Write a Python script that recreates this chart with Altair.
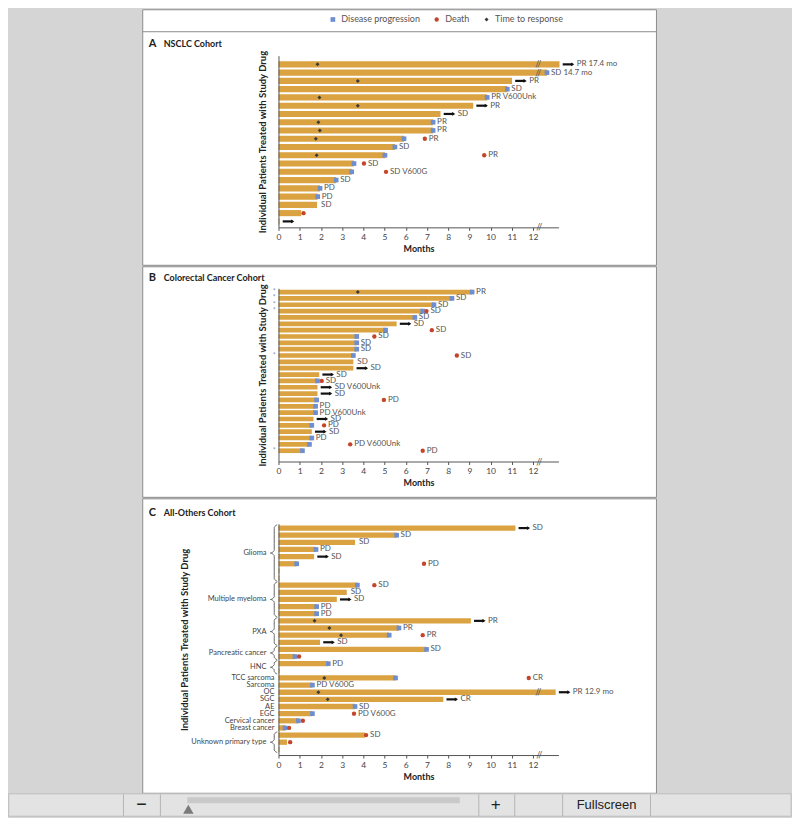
import altair as alt
import pandas as pd

FONT = "Lato"
BAR = "#DAA240"
BLUE = "#6E8ED2"
RED = "#C4452C"
DARK = "#3A3A3A"
TXT = "#555555"
EVENTS = ["Disease progression", "Death", "Time to response"]

# ---------------- Panel A: NSCLC cohort (20 patients) ----------------
a_dur = [13.25, 12.66, 11.01, 10.79, 9.84, 9.18, 7.64, 7.29, 7.29, 5.92,
         5.49, 5.02, 3.56, 3.45, 2.72, 1.96, 1.85, 1.82, 1.07, 0.05]
a_prog = [None, 12.66, None, 10.79, 9.84, None, None, 7.29, 7.29, 5.92,
          5.49, 5.02, 3.56, 3.45, 2.72, 1.96, 1.85, None, None, None]
a_death = [None, None, None, None, None, None, None, None, None, 6.9,
           None, 9.7, 4.03, 5.07, None, None, None, None, 1.18, None]
a_ttr = [1.84, None, 3.74, None, 1.93, 3.74, None, 1.88, 1.95, 1.76,
         None, 1.8, None, None, None, None, None, None, None, None]
a_arrow = [1, 0, 1, 0, 0, 1, 1, 0, 0, 0, 0, 0, 0, 0, 0, 0, 0, 0, 0, 1]
a_label = ["PR 17.4 mo", "SD 14.7 mo", "PR", "SD", "PR V600Unk", "PR", "SD", "PR", "PR", "PR",
           "SD", "PR", "SD", "SD V600G", "SD", "PD", "PD", "SD", "", ""]
a_break = [1, 1, 0, 0, 0, 0, 0, 0, 0, 0, 0, 0, 0, 0, 0, 0, 0, 0, 0, 0]

# ---------------- Panel B: colorectal cancer cohort (26 patients) ----------------
b_dur = [9.13, 8.18, 7.33, 6.8, 6.43, 5.57, 5.05, 3.69, 3.69, 3.69, 3.53, 3.53, 3.53,
         1.92, 1.84, 1.84, 1.84, 1.8, 1.75, 1.75, 1.65, 1.6, 1.57, 1.57, 1.46, 1.13]
b_prog = [9.13, 8.18, 7.33, 6.8, 6.43, None, 5.05, 3.69, 3.69, 3.69, 3.53, None, None,
          None, 1.84, None, None, 1.8, 1.75, 1.75, None, 1.57, None, 1.57, 1.46, 1.13]
b_death = [None, None, None, 6.98, None, None, 7.23, 4.52, None, None, 8.41, None, None,
           None, 2.04, None, None, 4.97, None, None, None, 2.15, None, None, 3.38, 6.8]
b_ttr = [3.74, None, None, None, None, None, None, None, None, None, None, None, None,
         None, None, None, None, None, None, None, None, None, None, None, None, None]
b_arrow = [0, 0, 0, 0, 0, 1, 0, 0, 0, 0, 0, 0, 1, 1, 0, 1, 1, 0, 0, 0, 1, 0, 1, 0, 0, 0]
b_label = ["PR", "SD", "SD", "SD", "SD", "SD", "SD", "SD", "SD", "SD", "SD", "SD", "SD",
           "SD", "SD", "SD V600Unk", "SD", "PD", "PD", "PD V600Unk", "SD", "PD", "SD", "PD",
           "PD V600Unk", "PD"]
b_break = [0] * 26
b_star = [1, 1, 1, 1, 0, 0, 0, 0, 0, 0, 1, 0, 0, 0, 0, 0, 0, 0, 0, 0, 0, 0, 0, 0, 0, 1]

# ---------------- Panel C: all-others cohort (32 patients) ----------------
c_dur = [11.17, 5.57, 3.61, 1.77, 1.68, 0.86, 0.05, 0.05,
         3.72, 3.22, 2.75, 1.8, 1.8,
         9.07, 5.68, 5.22, 1.96,
         6.98, 0.78,
         2.35, 0.05,
         5.52, 1.6, 13.07, 7.77, 3.61, 1.6, 0.94, 0.31,
         4.08, 0.4, 0.05]
c_prog = [None, 5.57, None, 1.77, None, 0.86, None, None,
          3.72, None, None, 1.8, 1.8,
          None, 5.68, 5.22, None,
          6.98, 0.78,
          2.35, None,
          5.52, 1.6, None, None, 3.61, 1.6, 0.94, 0.31,
          None, None, None]
c_death = [None, None, None, None, None, 6.86, None, None,
           4.52, None, None, None, None,
           None, None, 6.8, None,
           None, 0.97,
           None, None,
           11.8, None, None, None, None, 3.56, 1.15, 0.5,
           4.13, 0.55, None]
c_ttr = [None, None, None, None, None, None, None, None,
         None, None, None, None, None,
         1.7, 2.4, 2.95, None,
         None, None,
         None, None,
         2.16, None, 1.88, 2.32, None, None, None, None,
         None, None, None]
c_arrow = [1, 0, 0, 0, 1, 0, 0, 0,
           0, 0, 1, 0, 0,
           1, 0, 0, 1,
           0, 0,
           0, 0,
           0, 0, 1, 1, 0, 0, 0, 0,
           0, 0, 0]
c_label = ["SD", "SD", "SD", "PD", "SD", "PD", "", "",
           "SD", "SD", "SD", "PD", "PD",
           "PR", "PR", "PR", "SD",
           "SD", "",
           "PD", "",
           "CR", "PD V600G", "PR 12.9 mo", "CR", "SD", "PD V600G", "", "",
           "SD", "", ""]
c_break = [0] * 23 + [1] + [0] * 8
c_groups = ["Glioma", "Multiple myeloma", "PXA", "Pancreatic cancer", "HNC", "TCC sarcoma",
            "Sarcoma", "OC", "SGC", "AE", "EGC", "Cervical cancer", "Breast cancer",
            "Unknown primary type"]
c_group_first = [1, 9, 14, 18, 20, 22, 23, 24, 25, 26, 27, 28, 29, 30]
c_group_last = [8, 13, 17, 19, 21, 22, 23, 24, 25, 26, 27, 28, 29, 32]

# viewer toolbar texts under the figure
toolbar_texts = ["−", "+", "Fullscreen"]

X_TICKS = list(range(0, 13))
X_MAX = 13.2
Y_TITLE = "Individual Patients Treated with Study Drug"


def frames(dur, prog, death, ttr, arrow, label, brk):
    rows = list(range(1, len(dur) + 1))
    bars = pd.DataFrame({"row": rows, "dur": dur})
    ev = []
    for r, p, d, t in zip(rows, prog, death, ttr):
        if p is not None:
            ev.append({"row": r, "x": p, "event": EVENTS[0]})
        if d is not None:
            ev.append({"row": r, "x": d, "event": EVENTS[1]})
        if t is not None:
            ev.append({"row": r, "x": t, "event": EVENTS[2]})
    ev = pd.DataFrame(ev)
    arr = pd.DataFrame([{"row": r, "a0": x + 0.15, "a1": x + 0.62}
                        for r, x, a in zip(rows, dur, arrow) if a])
    lab = []
    for r, x, d, a, p, s in zip(rows, dur, death, arrow, prog, label):
        if not s:
            continue
        right = max(x + (0.62 if a else 0), d or 0, p or 0)
        lab.append({"row": r, "x": right, "text": s})
    lab = pd.DataFrame(lab)
    brks = pd.DataFrame([{"row": r, "x": 12.25} for r, b in zip(rows, brk) if b])
    return bars, ev, arr, lab, brks


def panel(letter, name, data, y_lo, y_hi, height, rect_top, rect_bottom, head_y,
          title_pad, show_legend=False, stars=None, groups=None, toolbar=False):
    bars, ev, arr, lab, brks = frames(*data)
    xs = alt.Scale(domain=[0, X_MAX], nice=False, zero=False)
    ys = alt.Scale(domain=[y_lo, y_hi], reverse=True, nice=False, zero=False)
    xaxis = alt.Axis(values=X_TICKS, title="Months", tickSize=3, labelFontSize=8.5,
                     labelPadding=2, titleFontSize=9, titleFontWeight="bold", titlePadding=4,
                     grid=False, zindex=1, domainColor="#555", tickColor="#555",
                     labelColor="#444", titleColor="#222", labelFont=FONT, titleFont=FONT,
                     labelFlush=False)
    yaxis = alt.Axis(title=Y_TITLE, labels=False, ticks=False, grid=False, zindex=1,
                     domainColor="#555", titleFontSize=9.5, titleFontWeight="bold",
                     titlePadding=title_pad, titleColor="#222", titleFont=FONT)
    one = pd.DataFrame({"k": [0]})

    def X(f):
        return alt.X(f, scale=xs, axis=xaxis)

    def Y(f):
        return alt.Y(f, scale=ys, axis=yaxis)

    layers = []
    layers.append(alt.Chart(one).mark_rect(fill="white", stroke="#8c8c8c", strokeWidth=1).encode(
        x=alt.value(-136), x2=alt.value(378.7), y=alt.value(rect_top), y2=alt.value(rect_bottom)))
    if toolbar:
        layers.append(alt.Chart(one).mark_rect(fill="#e3e3e3", stroke="#bdbdbd",
                                               strokeWidth=1).encode(
            x=alt.value(-270.3), x2=alt.value(513.7), y=alt.value(270.5), y2=alt.value(293)))
        seps = pd.DataFrame({"px": [-155.3, -118.3, 200.7, 236.7, 284.7, 372.7]})
        layers.append(alt.Chart(seps).mark_rule(color="#b5b5b5").encode(
            x=alt.X("px:Q", scale=None), y=alt.value(271), y2=alt.value(293)))
        layers.append(alt.Chart(one).mark_rect(fill="#c9c9c9").encode(
            x=alt.value(-91.3), x2=alt.value(181.7), y=alt.value(274), y2=alt.value(280)))
        layers.append(alt.Chart(one).mark_point(shape="triangle-up", filled=True, size=110,
                                                color="#7a7a7a", opacity=1).encode(
            x=alt.value(-90.3), y=alt.value(286)))
        tb = pd.DataFrame({"t": toolbar_texts, "px": [-137.3, 217.7, 328.7],
                           "fs": [18, 17, 13]})
        for t, px, fs in zip(tb["t"], tb["px"], tb["fs"]):
            layers.append(alt.Chart(one).mark_text(text=t, font="Liberation Sans",
                                                   fontSize=int(fs), color="#222",
                                                   baseline="middle", align="center").encode(
                x=alt.value(float(px)), y=alt.value(282)))
    if show_legend:
        layers.append(alt.Chart(one).mark_rule(color="#8c8c8c").encode(
            x=alt.value(-136), x2=alt.value(378.7), y=alt.value(-24)))
    layers.append(alt.Chart(one).mark_text(align="left", baseline="middle", font=FONT,
                                           fontWeight="bold", fontSize=11, color="#222",
                                           text=letter).encode(
        x=alt.value(-130), y=alt.value(head_y)))
    layers.append(alt.Chart(one).mark_text(align="left", baseline="middle", font=FONT,
                                           fontWeight="bold", fontSize=9, color="#222",
                                           text=name).encode(
        x=alt.value(-115), y=alt.value(head_y)))
    layers.append(alt.Chart(bars).transform_calculate(
        y0="datum.row - 0.37", y1="datum.row + 0.37", zero="0").mark_rect(color=BAR).encode(
        x=X("zero:Q"), x2="dur:Q", y=Y("y0:Q"), y2="y1:Q"))
    if len(brks):
        layers.append(alt.Chart(brks).mark_text(font=FONT, fontSize=9, color="#555",
                                                baseline="middle", text="//").encode(
            x=X("x:Q"), y=Y("row:Q")))
    # axis break
    layers.append(alt.Chart(pd.DataFrame({"x": [12.3], "row": [y_hi]})).mark_text(
        font=FONT, fontSize=9, color="#555", baseline="middle", text="//").encode(
        x=X("x:Q"), y=Y("row:Q")))
    if len(arr):
        layers.append(alt.Chart(arr).mark_rule(color="#111", strokeWidth=2.2).encode(
            x=X("a0:Q"), x2="a1:Q", y=Y("row:Q")))
        layers.append(alt.Chart(arr).mark_point(shape="triangle-right", filled=True,
                                                color="#111", size=14, opacity=1).encode(
            x=X("a1:Q"), y=Y("row:Q")))
    if show_legend:
        leg = alt.Legend(orient="none", legendX=50, legendY=-41, direction="horizontal",
                         title=None, labelFontSize=9, labelColor=TXT, labelFont=FONT,
                         symbolSize=36, symbolStrokeWidth=0, columnPadding=12,
                         labelOffset=4, padding=0)
    else:
        leg = None
    layers.append(alt.Chart(ev).mark_point(filled=True, opacity=1, strokeWidth=0).encode(
        x=X("x:Q"), y=Y("row:Q"),
        color=alt.Color("event:N", scale=alt.Scale(domain=EVENTS, range=[BLUE, RED, DARK]),
                        legend=leg),
        shape=alt.Shape("event:N", scale=alt.Scale(domain=EVENTS,
                                                   range=["square", "circle", "diamond"]),
                        legend=leg),
        size=alt.Size("event:N", scale=alt.Scale(domain=EVENTS, range=[22, 16, 9]),
                      legend=None)))
    layers.append(alt.Chart(lab).mark_text(align="left", baseline="middle", dx=4, font=FONT,
                                           fontSize=8, color=TXT).encode(
        x=X("x:Q"), y=Y("row:Q"), text="text:N"))
    if stars is not None:
        st = pd.DataFrame([{"row": i + 1, "x": -0.2} for i, s in enumerate(stars) if s])
        layers.append(alt.Chart(st).mark_text(text="*", font=FONT, fontSize=7,
                                              color="#8a96aa", baseline="middle").encode(
            x=X("x:Q"), y=Y("row:Q")))
    if groups is not None:
        names, firsts, lasts = groups
        g = pd.DataFrame({"name": names, "first": firsts, "last": lasts})
        g["mid"] = (g["first"] + g["last"]) / 2
        g["braced"] = g["last"] > g["first"]
        layers.append(alt.Chart(g[g["braced"]]).mark_text(
            align="right", baseline="middle", font=FONT, fontSize=7.5, color="#444", dx=-12
        ).encode(x=X("z:Q"), y=Y("mid:Q"), text="name:N").transform_calculate(z="0"))
        layers.append(alt.Chart(g[~g["braced"]]).mark_text(
            align="right", baseline="middle", font=FONT, fontSize=7.5, color="#444", dx=-4
        ).encode(x=X("z:Q"), y=Y("mid:Q"), text="name:N").transform_calculate(z="0"))
        pts = []
        for nm, f, l in zip(names, firsts, lasts):
            if l <= f:
                continue
            top, bot, mid = f - 0.45, l + 0.45, (f + l) / 2
            shape = [(-0.06, top), (-0.2, top + 0.35), (-0.2, mid - 0.35), (-0.38, mid),
                     (-0.2, mid + 0.35), (-0.2, bot - 0.35), (-0.06, bot)]
            for k, (xx, yy) in enumerate(shape):
                pts.append({"g": nm, "k": k, "x": xx, "y": yy})
        layers.append(alt.Chart(pd.DataFrame(pts)).mark_line(
            color="#555", strokeWidth=0.9, interpolate="monotone").encode(
            x=X("x:Q"), y=Y("y:Q"), detail="g:N", order="k:Q"))
    return alt.layer(*layers).properties(width=280.5, height=height)


pA = panel("A", "NSCLC Cohort",
           (a_dur, a_prog, a_death, a_ttr, a_arrow, a_label, a_break),
           y_lo=-0.05, y_hi=20.72, height=172, rect_top=-46, rect_bottom=210,
           head_y=-12, title_pad=11, show_legend=True)
pB = panel("B", "Colorectal Cancer Cohort",
           (b_dur, b_prog, b_death, b_ttr, b_arrow, b_label, b_break),
           y_lo=0.4, y_hi=27.7, height=173.6, rect_top=-21.5, rect_bottom=209.5,
           head_y=-10.5, title_pad=11, stars=b_star)
pC = panel("C", "All-Others Cohort",
           (c_dur, c_prog, c_death, c_ttr, c_arrow, c_label, c_break),
           y_lo=0.4, y_hi=32.8, height=231.7, rect_top=-25, rect_bottom=270,
           head_y=-11, title_pad=89, groups=(c_groups, c_group_first, c_group_last),
           toolbar=True)

chart = alt.vconcat(pA, pB, pC, spacing=0).resolve_scale(
    color="independent", shape="independent", size="independent"
).configure(
    background="#d5d5d5", padding={"left": 0, "top": 0, "right": 0, "bottom": 0}, font=FONT
).configure_view(stroke=None)

chart.save("out.html", embed_options={"renderer": "svg", "actions": False})
